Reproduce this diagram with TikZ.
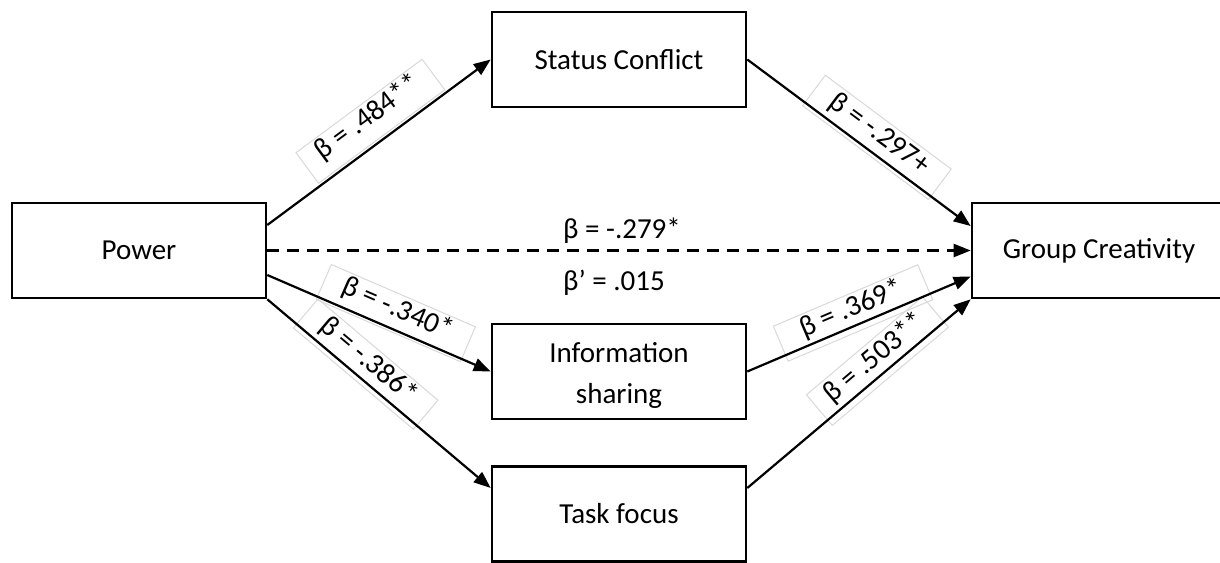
\documentclass[tikz,border=0pt]{standalone}
\usepackage{fontspec}
\setmainfont{Carlito}
\usetikzlibrary{arrows.meta,calc}
\begin{document}
\begin{tikzpicture}[x=1pt,y=-1pt,
  box/.style={draw, line width=2.6pt, minimum width=254pt, minimum height=95pt, inner sep=0pt, font=\fontsize{29}{35}\selectfont},
  arr/.style={line width=2.2pt, -{Triangle[length=17pt,width=13pt]}},
  dasharr/.style={arr, dash pattern=on 11.5pt off 8.5pt},
  lbl/.style={draw=black!15, line width=1pt, minimum width=157pt, minimum height=38pt, inner sep=0pt, anchor=center, text height=21pt, text depth=14pt, font=\fontsize{29}{35}\selectfont},
  plain/.style={font=\fontsize{29}{35}\selectfont, inner sep=0pt},
]
\useasboundingbox (0,0) rectangle (1220,562);
\fill[white] (0,0) rectangle (1220,562);

% boxes
\node[box] (power)  at (139,250.5) {Power};
\node[box] (status) at (619,59.5) {Status Conflict};
\node[box] (info)   at (619,371.5) {};
\node[box] (task)   at (619,514) {Task focus};
\node[box] (group)  at (1099,250.5) {Group Creativity};

\begin{scope}
  \clip (492,325) rectangle (746,407);
  \node[plain, font=\fontsize{29}{41}\selectfont, anchor=base, align=center] (infotext) at (619,403) {Information\\sharing};
\end{scope}

% connector end points
\coordinate (p1) at ([yshift=25.5pt]power.east);
\coordinate (p3) at ([yshift=-24.5pt]power.east);
\coordinate (t1) at ([yshift=26pt]task.west);
\coordinate (t2) at ([yshift=26pt]task.east);
\coordinate (g1) at ([yshift=24.5pt]group.west);
\coordinate (g3) at ([yshift=-26pt]group.west);

% label boxes (drawn under the lines), offset perpendicular to each line
\path let \p1=($(status.west)-(p1)$), \n1={atan2(\y1,\x1)} in
  node[lbl, rotate=\n1] (l1) at ($($(p1)!0.52!(status.west)$)!22pt!90:(status.west)$) {β = .484**};
\path let \p1=($(g1)-(status.east)$), \n1={atan2(\y1,\x1)} in
  node[lbl, rotate=\n1] (l2) at ($($(status.east)!0.54!(g1)$)!15pt!90:(g1)$) {β = -.297+};
\path let \p1=($(info.west)-(p3)$), \n1={atan2(\y1,\x1)} in
  node[lbl, rotate=\n1] (l3) at ($($(p3)!0.547!(info.west)$)!16pt!90:(info.west)$) {β = -.340*};
\path let \p1=($(t1)-(power.south east)$), \n1={atan2(\y1,\x1)} in
  node[lbl, rotate=\n1] (l4) at ($($(power.south east)!0.40!(t1)$)!14pt!90:(t1)$) {β = -.386*};
\path let \p1=($(g3)-(info.east)$), \n1={atan2(\y1,\x1)} in
  node[lbl, rotate=\n1] (l5) at ($($(info.east)!0.495!(g3)$)!12.5pt!90:(g3)$) {β = .369*};
\path let \p1=($(group.south west)-(t2)$), \n1={atan2(\y1,\x1)} in
  node[lbl, rotate=\n1, minimum width=152pt, minimum height=40pt] (l6) at ($($(t2)!0.62!(group.south west)$)!13pt!90:(group.south west)$) {β = .503**};

% connectors
\draw[arr] (p1) -- (status.west);
\draw[arr] (status.east) -- (g1);
\draw[dasharr] (power.east) -- (group.west);
\draw[arr] (p3) -- (info.west);
\draw[arr] (power.south east) -- (t1);
\draw[arr] (info.east) -- (g3);
\draw[arr] (t2) -- (group.south west);

% direct-path labels
\node[plain, anchor=base west] (beta1) at (563,238) {β = -.279*};
\node[plain, anchor=base west] (beta2) at (563,290) {β’ = .015};
\end{tikzpicture}
\end{document}
